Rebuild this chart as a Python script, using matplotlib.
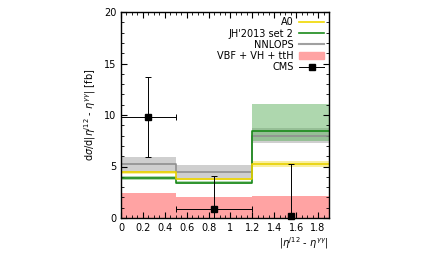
import numpy as np
import matplotlib.pyplot as plt
from matplotlib.ticker import MultipleLocator
from matplotlib.patches import Patch
from matplotlib.lines import Line2D

# bin edges
edges = [0.0, 0.5, 1.2, 1.9]

# theory predictions per bin: central, low, high
a0 = [4.45, 3.78, 5.22]
a0_lo = [4.3, 3.65, 4.95]
a0_hi = [4.6, 3.9, 5.5]
jh = [3.86, 3.44, 8.47]
jh_lo = [3.7, 3.3, 7.5]
jh_hi = [4.1, 3.6, 11.1]
nnlops = [5.26, 4.5, 7.98]
nnlops_lo = [4.5, 3.9, 7.3]
nnlops_hi = [5.97, 5.16, 8.7]
vbf = [2.47, 2.0, 2.17]

# CMS data
cms_x = [0.25, 0.85, 1.55]
cms_y = [9.8, 0.85, 0.2]
cms_up = [13.7, 4.1, 5.2]
cms_dn = [5.9, 0.0, 0.0]
cms_xerr = [0.25, 0.35, 0.0]

plt.rcParams['font.family'] = 'DejaVu Sans'
plt.rcParams['font.size'] = 7

fig = plt.figure(figsize=(4.31, 2.58), dpi=100)
ax = fig.add_axes([121/431, 1-218/258, 208/431, 206/258])

def step(vals):
    x = []
    y = []
    for i, v in enumerate(vals):
        x += [edges[i], edges[i+1]]
        y += [v, v]
    return x, y

def band(lo, hi, color, alpha):
    for i in range(len(lo)):
        ax.fill_between([edges[i], edges[i+1]], lo[i], hi[i], color=color, alpha=alpha, lw=0)

# VBF
for i in range(3):
    ax.fill_between([edges[i], edges[i+1]], 0, vbf[i], color='#ffa3a3', lw=0)

band(nnlops_lo, nnlops_hi, '#a8a8a8', 0.55)
band(jh_lo, jh_hi, '#5fb05f', 0.5)
band(a0_lo, a0_hi, '#f5e040', 0.5)

x, y = step(nnlops)
ax.plot(x, y, color='#909090', lw=1.2)
x, y = step(jh)
ax.plot(x, y, color='#1a8a1a', lw=1.2)
x, y = step(a0)
ax.plot(x, y, color='#e8d000', lw=1.2)

yerr = [np.array(cms_y) - np.array(cms_dn), np.array(cms_up) - np.array(cms_y)]
ax.errorbar(cms_x, cms_y, yerr=yerr, xerr=cms_xerr, fmt='s', color='black',
            ms=4, lw=0.7, capsize=2, capthick=0.7, clip_on=False, zorder=5)

ax.set_xlim(0, 1.9)
ax.set_ylim(0, 20)
ax.xaxis.set_major_locator(MultipleLocator(0.2))
ax.xaxis.set_minor_locator(MultipleLocator(0.05))
ax.yaxis.set_major_locator(MultipleLocator(5))
ax.yaxis.set_minor_locator(MultipleLocator(1))
ax.tick_params(which='both', direction='in', top=True, right=True, labelsize=7)
ax.tick_params(which='major', length=4)
ax.tick_params(which='minor', length=2)
ax.set_xticks([0, 0.2, 0.4, 0.6, 0.8, 1, 1.2, 1.4, 1.6, 1.8])
ax.set_xticklabels(['0', '0.2', '0.4', '0.6', '0.8', '1', '1.2', '1.4', '1.6', '1.8'])
for s in ax.spines.values():
    s.set_linewidth(1.0)

ax.set_ylabel(r'd$\sigma$/d|$\eta^{j12}$ - $\eta^{\gamma\gamma}$| [fb]', fontsize=7)
ax.set_xlabel(r'|$\eta^{j12}$ - $\eta^{\gamma\gamma}$|', fontsize=7, loc='right', labelpad=2)

handles = [
    Line2D([], [], color='#f0d800', lw=1.2),
    Line2D([], [], color='#1a8a1a', lw=1.2),
    Line2D([], [], color='#a0a0a0', lw=1.5),
    Patch(color='#ffa3a3'),
    Line2D([], [], color='black', marker='s', ms=4, lw=0.7),
]
labels = ['A0', "JH'2013 set 2", 'NNLOPS', 'VBF + VH + ttH', 'CMS']
ax.legend(handles, labels, loc='upper right', frameon=False, markerfirst=False,
          fontsize=7, handlelength=2.5, handleheight=0.6, labelspacing=0.12,
          borderaxespad=0.15, handletextpad=0.6)

fig.savefig('out.png', dpi=100)
